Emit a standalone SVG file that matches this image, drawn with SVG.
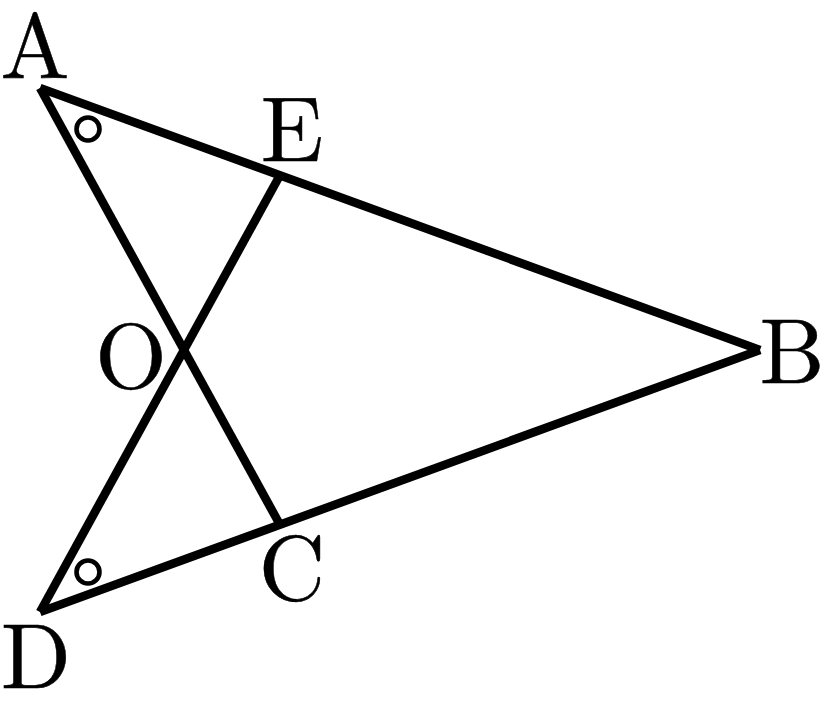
<svg xmlns="http://www.w3.org/2000/svg" width="834" height="716" viewBox="0 0 834 716">
<style>
.l{stroke:#000;stroke-width:8.6;fill:none;stroke-linecap:butt}
.m{stroke:#000;stroke-width:4.6;fill:none}
text{font-family:"Latin Modern Roman","Liberation Serif",serif;font-size:92px;fill:#000;stroke:#000;stroke-width:0.5;text-anchor:middle}
</style>
<rect width="834" height="716" fill="#fff"/>
<g id="connectors">
<path class="l" d="M40 88L760 350"/>
<path class="l" d="M40 612L760 350"/>
<path class="l" d="M40 88L279 523"/>
<path class="l" d="M40 612L279 177"/>
</g>
<g id="marks"><circle class="m" cx="88" cy="129" r="11.5"/><circle class="m" cx="88" cy="572" r="11.5"/></g>
<g id="A"><text x="35" y="78">A</text></g>
<g id="E"><text x="292" y="161">E</text></g>
<g id="O"><text x="131" y="388">O</text></g>
<g id="B"><text x="792" y="383">B</text></g>
<g id="C"><text x="292" y="600">C</text></g>
<g id="D"><text x="36" y="688">D</text></g>
</svg>
